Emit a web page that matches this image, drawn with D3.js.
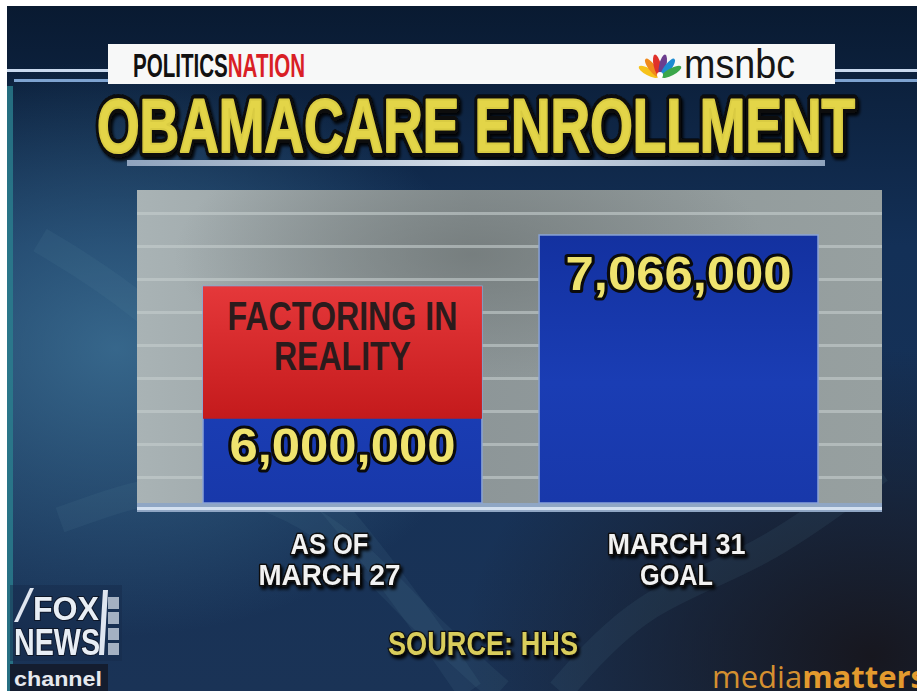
<!DOCTYPE html>
<html>
<head>
<meta charset="utf-8">
<script src="https://cdn.jsdelivr.net/npm/d3@7"></script>
<style>
  html, body { margin: 0; padding: 0; background: #fff; }
  svg { display: block; }
</style>
</head>
<body>
<script>
// chart data
const categories = ["AS OF|MARCH 27", "MARCH 31|GOAL"];
const values = [6000000, 7066000];
const valueLabels = ["6,000,000", "7,066,000"];
// msnbc overlay on the first bar ("factoring in reality")
const overlayFrom = [3250000];
const overlayTo = [6000000];
const overlayText = ["FACTORING IN", "REALITY"];
const yDomain = [1500000, 8000000]; // truncated axis, as aired

const W = 917, H = 691;
const svg = d3.select("body").append("svg")
  .attr("width", W)
  .attr("height", H);

const defs = svg.append("defs");

// background gradients
const bgLin = defs.append("linearGradient").attr("id", "bgLin")
  .attr("x1", 0).attr("y1", 0).attr("x2", 0).attr("y2", 1);
bgLin.append("stop").attr("offset", "0%").attr("stop-color", "#091a31");
bgLin.append("stop").attr("offset", "35%").attr("stop-color", "#133057");
bgLin.append("stop").attr("offset", "100%").attr("stop-color", "#1a3356");

const glow = defs.append("radialGradient").attr("id", "glow")
  .attr("cx", 0.12).attr("cy", 0.5).attr("r", 0.42);
glow.append("stop").attr("offset", "0%").attr("stop-color", "#3f7498").attr("stop-opacity", 0.8);
glow.append("stop").attr("offset", "100%").attr("stop-color", "#3f7498").attr("stop-opacity", 0);

const dark = defs.append("radialGradient").attr("id", "dark")
  .attr("cx", 0.95).attr("cy", 0.95).attr("r", 0.45);
dark.append("stop").attr("offset", "0%").attr("stop-color", "#17171f").attr("stop-opacity", 1);
dark.append("stop").attr("offset", "100%").attr("stop-color", "#17171f").attr("stop-opacity", 0);

const panelGrad = defs.append("linearGradient").attr("id", "panelGrad")
  .attr("x1", 0).attr("y1", 0).attr("x2", 1).attr("y2", 0);
panelGrad.append("stop").attr("offset", "0%").attr("stop-color", "#a9b3b5");
panelGrad.append("stop").attr("offset", "45%").attr("stop-color", "#8d9698");
panelGrad.append("stop").attr("offset", "100%").attr("stop-color", "#97a0a0");

const smoke = defs.append("radialGradient").attr("id", "smoke")
  .attr("cx", 0.45).attr("cy", 0.2).attr("r", 0.4);
smoke.append("stop").attr("offset", "0%").attr("stop-color", "#6d7474").attr("stop-opacity", 0.7);
smoke.append("stop").attr("offset", "100%").attr("stop-color", "#6d7474").attr("stop-opacity", 0);

const blueGrad = defs.append("linearGradient").attr("id", "blueGrad")
  .attr("x1", 0).attr("y1", 0).attr("x2", 0).attr("y2", 1);
blueGrad.append("stop").attr("offset", "0%").attr("stop-color", "#1331a0");
blueGrad.append("stop").attr("offset", "55%").attr("stop-color", "#1a3db4");
blueGrad.append("stop").attr("offset", "100%").attr("stop-color", "#1838aa");

const redGrad = defs.append("linearGradient").attr("id", "redGrad")
  .attr("x1", 0).attr("y1", 0).attr("x2", 0).attr("y2", 1);
redGrad.append("stop").attr("offset", "0%").attr("stop-color", "#e5383a");
redGrad.append("stop").attr("offset", "100%").attr("stop-color", "#c41a1c");

const barGrad = defs.append("linearGradient").attr("id", "ruleGrad")
  .attr("x1", 0).attr("y1", 0).attr("x2", 1).attr("y2", 0);
barGrad.append("stop").attr("offset", "0%").attr("stop-color", "#8fa3bd");
barGrad.append("stop").attr("offset", "50%").attr("stop-color", "#d4dde8");
barGrad.append("stop").attr("offset", "100%").attr("stop-color", "#8fa3bd");

const shadow = defs.append("filter").attr("id", "shadow")
  .attr("x", "-10%").attr("y", "-20%").attr("width", "120%").attr("height", "150%");
shadow.append("feDropShadow").attr("dx", 2).attr("dy", 3).attr("stdDeviation", 1.5)
  .attr("flood-color", "#000").attr("flood-opacity", 0.9);

const soft = defs.append("filter").attr("id", "soft");
soft.append("feGaussianBlur").attr("stdDeviation", 0.6);

// frame: white margin on top and left, picture starts at (7,6)
svg.append("rect").attr("x", 7).attr("y", 6).attr("width", W - 7).attr("height", H - 6)
  .attr("fill", "url(#bgLin)");
svg.append("rect").attr("x", 7).attr("y", 6).attr("width", W - 7).attr("height", H - 6)
  .attr("fill", "url(#glow)");
svg.append("rect").attr("x", 7).attr("y", 6).attr("width", W - 7).attr("height", H - 6)
  .attr("fill", "url(#dark)");
// teal strip on left edge
svg.append("rect").attr("x", 7).attr("y", 86).attr("width", 6).attr("height", H - 86)
  .attr("fill", "#2a7f8e").attr("opacity", 0.8);

// faint DNA strands in the background
const strand = d3.line().curve(d3.curveBasis);
const strands = [
  [[40, 240], [140, 300], [260, 420], [380, 560], [470, 691]],
  [[60, 520], [200, 470], [330, 520], [420, 620], [500, 691]],
  [[560, 691], [640, 600], [760, 560], [880, 470]]
];
svg.append("g").selectAll("path").data(strands).join("path")
  .attr("d", strand)
  .attr("fill", "none")
  .attr("stroke", "#5f8fa8")
  .attr("stroke-width", 26)
  .attr("opacity", 0.1);

// header lines beside banner
svg.append("rect").attr("x", 7).attr("y", 69).attr("width", 102).attr("height", 3).attr("fill", "#c9d9ee");
svg.append("rect").attr("x", 14).attr("y", 79).attr("width", 95).attr("height", 3).attr("fill", "#7ea3d0");
svg.append("rect").attr("x", 834).attr("y", 69).attr("width", 83).attr("height", 3).attr("fill", "#c9d9ee");
svg.append("rect").attr("x", 834).attr("y", 79).attr("width", 83).attr("height", 3).attr("fill", "#7ea3d0");

// white banner
svg.append("rect").attr("x", 108).attr("y", 44).attr("width", 727).attr("height", 40)
  .attr("fill", "#f7f8f8");

const banner = svg.append("text")
  .attr("x", 133).attr("y", 77)
  .attr("font-family", "Liberation Sans Narrow, Liberation Sans, Arial, sans-serif")
  .attr("font-weight", 700)
  .attr("font-size", 33)
  .attr("textLength", 172)
  .attr("lengthAdjust", "spacingAndGlyphs");
banner.append("tspan").attr("fill", "#111").text("POLITICS");
banner.append("tspan").attr("fill", "#d91f26").text("NATION");

// msnbc peacock
const peacockColors = ["#f6c21a", "#f08a1c", "#e0302a", "#6c3d8e", "#1d8bd1", "#3aa64a"];
const peacock = svg.append("g").attr("transform", "translate(660,78)");
peacock.selectAll("ellipse").data(peacockColors).join("ellipse")
  .attr("cx", 0).attr("cy", -13)
  .attr("rx", 3.6).attr("ry", 11)
  .attr("fill", d => d)
  .attr("transform", (d, i) => `rotate(${-62 + i * 24.8})`);
peacock.append("circle").attr("cx", 0).attr("cy", -3).attr("r", 3).attr("fill", "#fff");

svg.append("text")
  .attr("x", 684).attr("y", 78)
  .attr("font-family", "Liberation Sans, Arial, sans-serif")
  .attr("font-size", 40)
  .attr("fill", "#161616")
  .attr("textLength", 111)
  .attr("lengthAdjust", "spacingAndGlyphs")
  .text("msnbc");

// title: black outline layer, then a thickened yellow face
const titleAttrs = sel => sel
  .attr("x", 476).attr("y", 152)
  .attr("text-anchor", "middle")
  .attr("font-family", "Liberation Sans, Arial, sans-serif")
  .attr("font-weight", 900)
  .attr("font-size", 76)
  .attr("textLength", 758)
  .attr("lengthAdjust", "spacingAndGlyphs")
  .attr("stroke-linejoin", "round")
  .text("OBAMACARE ENROLLMENT");
svg.append("text").call(titleAttrs)
  .attr("fill", "#0b0b0b")
  .attr("stroke", "#0b0b0b")
  .attr("stroke-width", 10)
  .attr("filter", "url(#shadow)");
svg.append("text").call(titleAttrs)
  .attr("fill", "#e3d548")
  .attr("stroke", "#d9cb42")
  .attr("stroke-width", 2.2);

svg.append("rect").attr("x", 127).attr("y", 160).attr("width", 698).attr("height", 6)
  .attr("fill", "url(#ruleGrad)");

// chart panel
const panel = { left: 137, right: 882, top: 190, bottom: 512 };
const y = d3.scaleLinear().domain(yDomain).range([503, panel.top]);
const x = d3.scaleBand().domain(categories).range([203, 818]).paddingInner(0.17).paddingOuter(0);

svg.append("rect")
  .attr("x", panel.left).attr("y", panel.top)
  .attr("width", panel.right - panel.left).attr("height", panel.bottom - panel.top)
  .attr("fill", "url(#panelGrad)");
svg.append("rect")
  .attr("x", panel.left).attr("y", panel.top)
  .attr("width", panel.right - panel.left).attr("height", panel.bottom - panel.top)
  .attr("fill", "url(#smoke)");

// stripe texture
svg.append("g").selectAll("rect")
  .data(d3.range(panel.top + 22, panel.bottom - 20, 33))
  .join("rect")
  .attr("x", panel.left).attr("y", d => d)
  .attr("width", panel.right - panel.left).attr("height", 3)
  .attr("fill", "#c4cdcd").attr("opacity", 0.6);

// bottom ledge
svg.append("rect")
  .attr("x", panel.left).attr("y", 503)
  .attr("width", panel.right - panel.left).attr("height", 9)
  .attr("fill", "#8fa6c4");
svg.append("rect")
  .attr("x", panel.left).attr("y", 507)
  .attr("width", panel.right - panel.left).attr("height", 3)
  .attr("fill", "#d3e0f0");

// bars
svg.append("g").selectAll("rect")
  .data(values)
  .join("rect")
  .attr("x", (d, i) => x(categories[i]))
  .attr("y", d => y(d))
  .attr("width", x.bandwidth())
  .attr("height", d => y(yDomain[0]) - y(d))
  .attr("fill", "url(#blueGrad)")
  .attr("stroke", "#8aa3d6")
  .attr("stroke-width", 1.5);

// overlay "factoring in reality"
svg.append("g").selectAll("rect")
  .data(overlayTo)
  .join("rect")
  .attr("x", (d, i) => x(categories[i]))
  .attr("y", d => y(d))
  .attr("width", x.bandwidth())
  .attr("height", (d, i) => y(overlayFrom[i]) - y(d))
  .attr("fill", "url(#redGrad)");

const cx0 = x(categories[0]) + x.bandwidth() / 2;
svg.append("g").selectAll("text")
  .data(overlayText)
  .join("text")
  .attr("x", cx0)
  .attr("y", (d, i) => y(overlayTo[0]) + 44 + i * 40)
  .attr("text-anchor", "middle")
  .attr("font-family", "Liberation Sans Narrow, Liberation Sans, Arial, sans-serif")
  .attr("font-weight", 700)
  .attr("font-size", 40)
  .attr("textLength", (d, i) => [230, 137][i])
  .attr("lengthAdjust", "spacingAndGlyphs")
  .attr("fill", "#2b1b1c")
  .text(d => d);

// value labels
svg.append("g").selectAll("text")
  .data(values)
  .join("text")
  .attr("x", (d, i) => x(categories[i]) + x.bandwidth() / 2)
  .attr("y", (d, i) => i === 0 ? y(overlayFrom[0]) + 43 : y(d) + 55)
  .attr("text-anchor", "middle")
  .attr("font-family", "Liberation Sans, Arial, sans-serif")
  .attr("font-weight", 700)
  .attr("font-size", 48)
  .attr("textLength", 226)
  .attr("lengthAdjust", "spacingAndGlyphs")
  .attr("fill", "#efe36e")
  .attr("stroke", "#0b0b0b")
  .attr("stroke-width", 6)
  .attr("stroke-linejoin", "round")
  .attr("paint-order", "stroke")
  .text((d, i) => valueLabels[i]);

// category labels
const catG = svg.append("g").selectAll("text")
  .data(categories)
  .join("text")
  .attr("text-anchor", "middle")
  .attr("font-family", "Liberation Sans Narrow, Liberation Sans, Arial, sans-serif")
  .attr("font-weight", 700)
  .attr("font-size", 29)
  .attr("fill", "#f2f2f2")
  .attr("stroke", "#111")
  .attr("stroke-width", 3)
  .attr("stroke-linejoin", "round")
  .attr("paint-order", "stroke")
  .attr("filter", "url(#shadow)");
const catWidths = [[78, 142], [138, 73]];
catG.selectAll("tspan")
  .data((d, i) => d.split("|").map((t, j) => ({ t, j, i, c: d })))
  .join("tspan")
  .attr("x", d => x(d.c) + x.bandwidth() / 2 - (d.i === 0 ? 13 : 2))
  .attr("y", d => 554 + d.j * 31)
  .attr("textLength", d => catWidths[d.i][d.j])
  .attr("lengthAdjust", "spacingAndGlyphs")
  .text(d => d.t);

// source
svg.append("text")
  .attr("x", 483).attr("y", 655)
  .attr("text-anchor", "middle")
  .attr("font-family", "Liberation Sans Narrow, Liberation Sans, Arial, sans-serif")
  .attr("font-weight", 700)
  .attr("font-size", 33)
  .attr("textLength", 190)
  .attr("lengthAdjust", "spacingAndGlyphs")
  .attr("fill", "#d9cd5c")
  .attr("stroke", "#111")
  .attr("stroke-width", 2.5)
  .attr("paint-order", "stroke")
  .attr("filter", "url(#shadow)")
  .text("SOURCE: HHS");

// fox news channel bug
const fox = svg.append("g").attr("filter", "url(#soft)");
fox.append("rect").attr("x", 10).attr("y", 585).attr("width", 112).attr("height", 76)
  .attr("fill", "#1a2a4a").attr("opacity", 0.5);
fox.append("path").attr("d", "M14,622 L30,588 L34,588 L18,622 Z").attr("fill", "#dfe6f0");
fox.append("text").attr("x", 33).attr("y", 620)
  .attr("font-family", "Liberation Sans, Arial, sans-serif").attr("font-weight", 700)
  .attr("font-size", 34).attr("textLength", 66).attr("lengthAdjust", "spacingAndGlyphs")
  .attr("fill", "#e8eef5").attr("stroke", "#101828").attr("stroke-width", 2).attr("paint-order", "stroke")
  .text("FOX");
fox.append("text").attr("x", 14).attr("y", 655)
  .attr("font-family", "Liberation Sans, Arial, sans-serif").attr("font-weight", 700)
  .attr("font-size", 36).attr("textLength", 86).attr("lengthAdjust", "spacingAndGlyphs")
  .attr("fill", "#e8eef5").attr("stroke", "#101828").attr("stroke-width", 2).attr("paint-order", "stroke")
  .text("NEWS");
fox.append("path").attr("d", "M103,590 L108,590 L104,655 L99,655 Z").attr("fill", "#dfe6f0");
fox.selectAll("rect.sq").data([597, 612, 628, 643]).join("rect").attr("class", "sq")
  .attr("x", 108).attr("y", d => d).attr("width", 11).attr("height", 12)
  .attr("fill", "#c8d2de").attr("opacity", 0.8);
svg.append("rect").attr("x", 10).attr("y", 664).attr("width", 98).attr("height", 27).attr("fill", "#141d2f");
svg.append("text").attr("x", 14).attr("y", 686)
  .attr("font-family", "Liberation Sans, Arial, sans-serif").attr("font-weight", 700)
  .attr("font-size", 21).attr("textLength", 88).attr("lengthAdjust", "spacingAndGlyphs")
  .attr("fill", "#e6e9ee")
  .text("channel");

// media matters watermark (runs off the right edge, as in the source)
const mm = svg.append("text")
  .attr("x", 712).attr("y", 688)
  .attr("font-family", "Open Sans, Liberation Sans, Arial, sans-serif")
  .attr("font-size", 31)
  .attr("fill", "#d49030");
mm.append("tspan").attr("font-weight", 400).text("media");
mm.append("tspan").attr("font-weight", 700).attr("fill", "#e39a2e").text("matters");
</script>
</body>
</html>
